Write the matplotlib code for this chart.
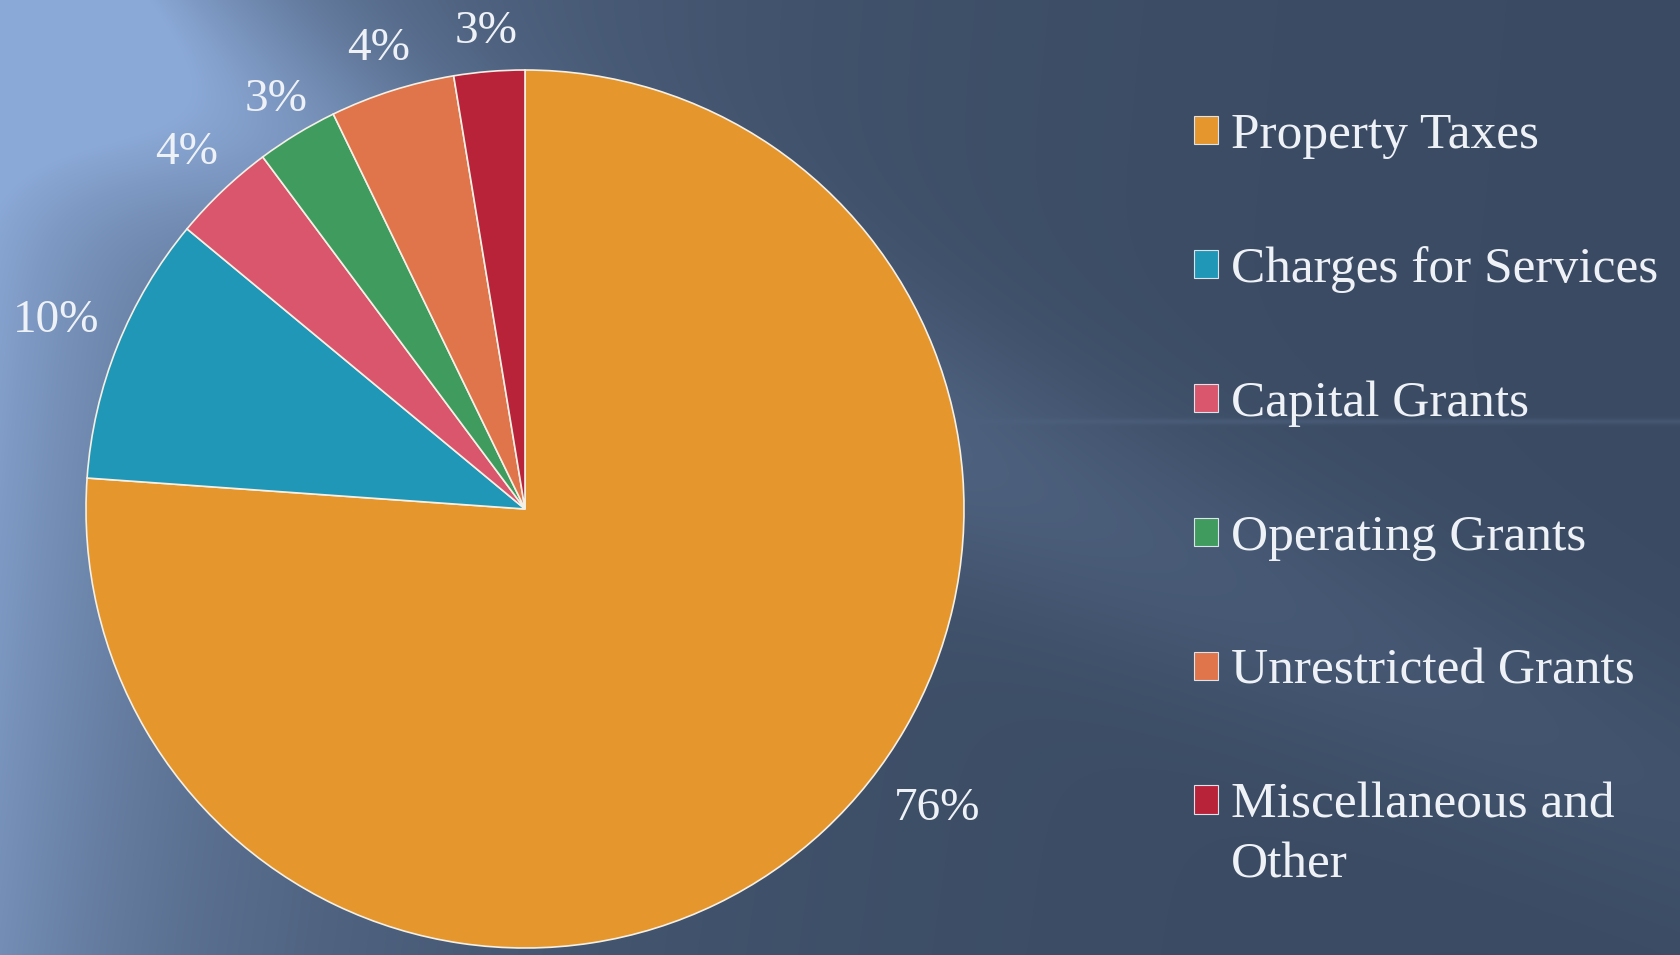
import numpy as np
import matplotlib
matplotlib.use("Agg")
import matplotlib.pyplot as plt
from matplotlib.patches import Patch

# slice shares and the rounded labels printed on the chart
categories = [
    "Property Taxes",
    "Charges for Services",
    "Capital Grants",
    "Operating Grants",
    "Unrestricted Grants",
    "Miscellaneous and Other",
]
shares = [76.2, 9.9, 3.8, 3.0, 4.6, 2.6]
pct_labels = ["76%", "10%", "4%", "3%", "4%", "3%"]
colors = ["#E5962C", "#2097B6", "#D9566C", "#3F9C5E", "#E0744A", "#B8233A"]

W, H = 1680, 955
TEXT = "#EEF2F7"
FONT = "Liberation Serif"


def background(w, h):
    # rows run top to bottom
    y, x = np.mgrid[0:h, 0:w].astype(float)
    dark = np.array([58, 74, 98]) / 255
    light = np.array([140, 170, 216]) / 255
    # glow coming in from the left, strongest near the top
    g = np.exp(-x / 330.0) * (1.0 - 0.3 * y / h)
    # soft diagonal beam from the top-left corner
    d = (y - 0.47 * x) / np.sqrt(1 + 0.47 ** 2)
    beam = np.exp(-(d / 120.0) ** 2) * np.exp(-x / 900.0) * 0.55
    # faint horizontal streak on the right
    streak = np.exp(-((y - 421) / 3.0) ** 2) * np.clip((x - 950) / 300, 0, 1) * 0.12
    w_ = np.clip(g + beam + streak, 0, 1)[..., None]
    return dark * (1 - w_) + light * w_


fig = plt.figure(figsize=(W / 100, H / 100), dpi=100)
ax = fig.add_axes([0, 0, 1, 1])
ax.imshow(background(W, H), extent=(0, W, 0, H), zorder=0)

center = (525, 446)
radius = 439
wedges, _ = ax.pie(
    shares,
    colors=colors,
    startangle=90,
    counterclock=False,
    center=center,
    radius=radius,
    wedgeprops=dict(edgecolor="#F4F0E6", linewidth=1.2),
    frame=True,
)
for w in wedges:
    w.set_zorder(2)

# label distance (in radii) and angle shift for each slice, Excel "best fit" style
label_dist = [1.16, 1.15, 1.12, 1.09, 1.10, 1.09]
label_shift = [11, 0, 0, 0, 0, 0]
for w, txt, dist, shift in zip(wedges, pct_labels, label_dist, label_shift):
    ang = np.deg2rad((w.theta1 + w.theta2) / 2 + shift)
    ax.text(center[0] + radius * dist * np.cos(ang),
            center[1] + radius * dist * np.sin(ang),
            txt, ha="center", va="center", color=TEXT,
            fontsize=34, family=FONT, zorder=3)

# the last entry wraps; keep the square on its first line and put the rest below
first, _, rest = categories[-1].rpartition(" ")
leg_labels = categories[:-1] + [first]
handles = [Patch(facecolor=c, edgecolor="#DDE3EA", linewidth=0.8) for c in colors]
leg = ax.legend(
    handles, leg_labels,
    loc="upper left",
    bbox_to_anchor=(1173 / W, 1 - 92 / H),
    frameon=False,
    prop=dict(family=FONT, size=37),
    labelcolor=TEXT,
    handlelength=0.47,
    handleheight=0.47,
    handletextpad=0.25,
    labelspacing=1.7,
    borderaxespad=0,
)
# drawn after the legend so the anchor text already has its final place
ax.annotate(rest, xy=(0, 0), xycoords=leg.get_texts()[-1],
            xytext=(0, -13), textcoords="offset pixels",
            ha="left", va="top", color=TEXT, family=FONT, fontsize=37,
            zorder=6, annotation_clip=False)

ax.set_xlim(0, W)
ax.set_ylim(0, H)
ax.set_aspect("equal")
ax.axis("off")

fig.savefig("out.png", dpi=100)
